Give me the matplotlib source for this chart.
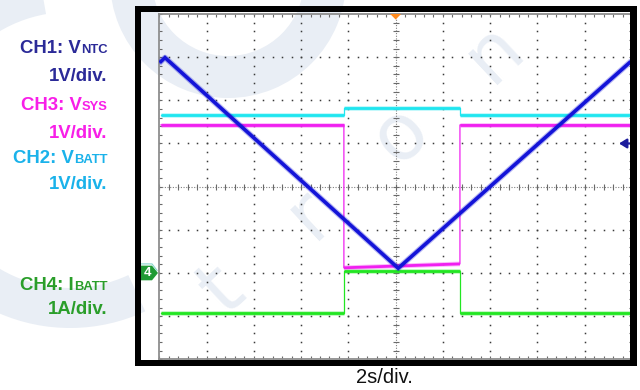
import numpy as np
import matplotlib
matplotlib.use("Agg")
import matplotlib.pyplot as plt
from matplotlib import transforms
from matplotlib.patches import Polygon, Rectangle, Wedge

# ---- capture data (time in seconds, levels in screen divisions from centre) ----
t_start, t_end = 0.07, 20.0
edge_times = [7.81, 12.72]                 # switching instants shared by CH2/CH3/CH4

ch1_time = [0.07, 0.24, 10.11, 19.89]      # V_NTC ramp
ch1_level = [2.90, 2.99, -1.89, 2.87]

ch2_level = [1.66, 1.82, 1.66]             # V_BATT
ch3_level_a = [1.43, -1.88, 1.43]          # V_SYS at start of each segment
ch3_level_b = [1.43, -1.79, 1.43]          # V_SYS at end of each segment
ch4_level = [-2.92, -1.95, -2.92]          # I_BATT

ch4_ground = -2.0                          # CH4 reference marker
trigger_time = 10.0
trigger_level = 1.0

channels = ["CH1", "CH3", "CH2", "CH4"]
quantities = ["V", "V", "V", "I"]
subscripts = ["NTC", "SYS", "BATT", "BATT"]
scales = ["1V/div.", "1V/div.", "1V/div.", "1A/div."]
label_colors = ["#2b2a98", "#f81ee8", "#1ab2ea", "#2a9e2a"]
time_label = "2s/div."

W, H = 640, 390
fig = plt.figure(figsize=(W / 100, H / 100), dpi=100, facecolor="white")
PX = transforms.Affine2D().scale(0.01) + fig.dpi_scale_trans


def P(x, y):
    return (x, H - y)


# ---- faint background logo ----
wm = "#e9eef5"
fig.patches.append(Wedge(P(228, -20), 118, 0, 360, width=42, transform=PX,
                         facecolor=wm, edgecolor="none", zorder=-3))
fig.patches.append(Wedge(P(70, 150), 178, 100, 295, width=40, transform=PX,
                         facecolor=wm, edgecolor="none", zorder=-3))
for ch, x, y in [("t", 222, 290), ("r", 310, 214), ("o", 400, 134), ("n", 494, 52)]:
    fig.text(*P(x, y), ch, transform=PX, fontsize=56, color=wm, rotation=43,
             rotation_mode="anchor", ha="center", va="center",
             family="DejaVu Sans", zorder=-2)

# ---- screen axes ----
ax = fig.add_axes([159.3 / W, 1 - 359.3 / H, (632 - 159.3) / W, (359.3 - 14) / H])
ax.set_facecolor("none")
ax.set_xlim(0, 20)
ax.set_ylim(-4, 4)

major_x = np.arange(0, 20.01, 2)
minor_x = np.arange(0, 20.01, 0.4)
major_y = np.arange(-4, 4.01, 1)
minor_y = np.arange(-4, 4.001, 0.2)
ax.set_xticks(major_x)
ax.set_xticks(minor_x, minor=True)
ax.set_yticks(major_y)
ax.set_yticks(minor_y, minor=True)
ax.tick_params(which="both", direction="in", top=True, right=True, length=2.4,
               width=0.8, color="#6a6a6a", labelbottom=False, labelleft=False)
for s in ax.spines.values():
    s.set_color("#8e8e8e")
    s.set_linewidth(1.3)

# dotted graticule
gx = [v for v in major_x[1:-1] if v != 10]
gy = [v for v in major_y[1:-1] if v != 0]
X, Y = np.meshgrid(gx, minor_y)
ax.plot(X.ravel(), Y.ravel(), ls="none", marker="s", ms=1.1, mew=0, color="#3a3a3a", zorder=1)
X, Y = np.meshgrid(minor_x, gy)
ax.plot(X.ravel(), Y.ravel(), ls="none", marker="s", ms=1.1, mew=0, color="#3a3a3a", zorder=1)

# centre cross with minor ticks
ax.axhline(0, color="#808080", lw=0.8, ls=(0, (1, 1.4)), zorder=1)
ax.axvline(10, color="#808080", lw=0.8, ls=(0, (1, 1.4)), zorder=1)
ax.plot(minor_x, np.zeros_like(minor_x), ls="none", marker="|", ms=4, mew=0.8,
        color="#6a6a6a", zorder=1)
ax.plot(np.full_like(minor_y, 10), minor_y, ls="none", marker="_", ms=4, mew=0.8,
        color="#6a6a6a", zorder=1)


def step_trace(levels_a, levels_b, color, z):
    bounds = [t_start] + edge_times + [t_end]
    xs, ys = [], []
    for i in range(len(levels_a)):
        xs += [bounds[i], bounds[i + 1]]
        ys += [levels_a[i], levels_b[i]]
    # fast edges drawn thin, flat parts drawn thick like noisy captures
    ax.plot(xs, ys, color=color, lw=0.9, zorder=z)
    for i in range(len(levels_a)):
        seg_x = [bounds[i], bounds[i + 1]]
        seg_y = [levels_a[i], levels_b[i]]
        ax.plot(seg_x, seg_y, color=color, lw=3.4, alpha=0.3, zorder=z,
                solid_capstyle="butt")
        ax.plot(seg_x, seg_y, color=color, lw=2.0, zorder=z, solid_capstyle="butt")


step_trace(ch4_level, ch4_level, "#22e622", 3)
step_trace(ch2_level, ch2_level, "#1ee6f0", 4)
step_trace(ch3_level_a, ch3_level_b, "#f020f0", 5)

ax.plot(ch1_time, ch1_level, color="#1414d8", lw=4.2, alpha=0.3, zorder=6)
ax.plot(ch1_time, ch1_level, color="#1414d8", lw=2.6, zorder=6, solid_joinstyle="miter")

# trigger position and level markers
ax.add_patch(Polygon([(trigger_time - 0.23, 1.0), (trigger_time + 0.23, 1.0),
                      (trigger_time, 0.984)],
                     transform=transforms.blended_transform_factory(ax.transData, ax.transAxes),
                     facecolor="#ff8a1e", edgecolor="none", clip_on=False, zorder=8))
ax.annotate("", xy=(19.45, trigger_level), xytext=(19.98, trigger_level),
            arrowprops=dict(arrowstyle="-|>,head_length=0.45,head_width=0.28",
                            color="#1c1c9c", lw=1.6, shrinkA=0, shrinkB=0), zorder=8)

# ---- black screen bezel ----
for x0, y0, x1, y1 in [(135, 6, 141, 366), (630, 6, 637, 366),
                       (135, 6, 637, 12.3), (135, 360, 637, 366)]:
    fig.patches.append(Rectangle(P(x0, y1), x1 - x0, y1 - y0, transform=PX,
                                 facecolor="black", edgecolor="none", zorder=5))

# CH4 ground reference tag
gt = transforms.blended_transform_factory(PX, ax.transData)
hh = 0.17
ax.add_patch(Polygon([(141, ch4_ground + hh), (152, ch4_ground + hh), (158, ch4_ground),
                      (152, ch4_ground - hh), (141, ch4_ground - hh)], transform=gt,
                     facecolor="#1f9a34", edgecolor="none", clip_on=False, zorder=9))
ax.plot([141, 152, 157], [ch4_ground + hh + 0.04, ch4_ground + hh + 0.04, ch4_ground + 0.06],
        transform=gt, color="#86d6cc", lw=0.8, clip_on=False, zorder=9)
ax.text(148, ch4_ground, "4", transform=gt, ha="center", va="center", color="white",
        fontsize=9.5, fontweight="bold", family="Liberation Sans", clip_on=False, zorder=10)

# ---- channel labels ----
renderer = fig.canvas.get_renderer()
right_x = 107.3
name_base = [52.7, 110.0, 163.3, 290.0]
scale_base = [81.0, 137.7, 189.3, 314.0]
for ch, q, sub, sc, col, yb, ys in zip(channels, quantities, subscripts, scales,
                                       label_colors, name_base, scale_base):
    st = fig.text(*P(right_x, yb), sub, transform=PX, ha="right", va="baseline",
                  fontsize=9.4, fontweight="bold", color=col, family="Liberation Sans")
    wpx = st.get_window_extent(renderer).width * 100 / fig.dpi
    fig.text(*P(right_x - wpx, yb), f"{ch}: {q}", transform=PX, ha="right",
             va="baseline", fontsize=13.4, fontweight="bold", color=col,
             family="Liberation Sans")
    fig.text(*P(right_x, ys), sc, transform=PX, ha="right", va="baseline",
             fontsize=13.4, fontweight="bold", color=col, family="Liberation Sans")

fig.text(*P(384, 383), time_label, transform=PX, ha="center", va="baseline",
         fontsize=14.5, color="#111111", family="Liberation Sans")

fig.savefig("out.png", dpi=100, facecolor="white")
